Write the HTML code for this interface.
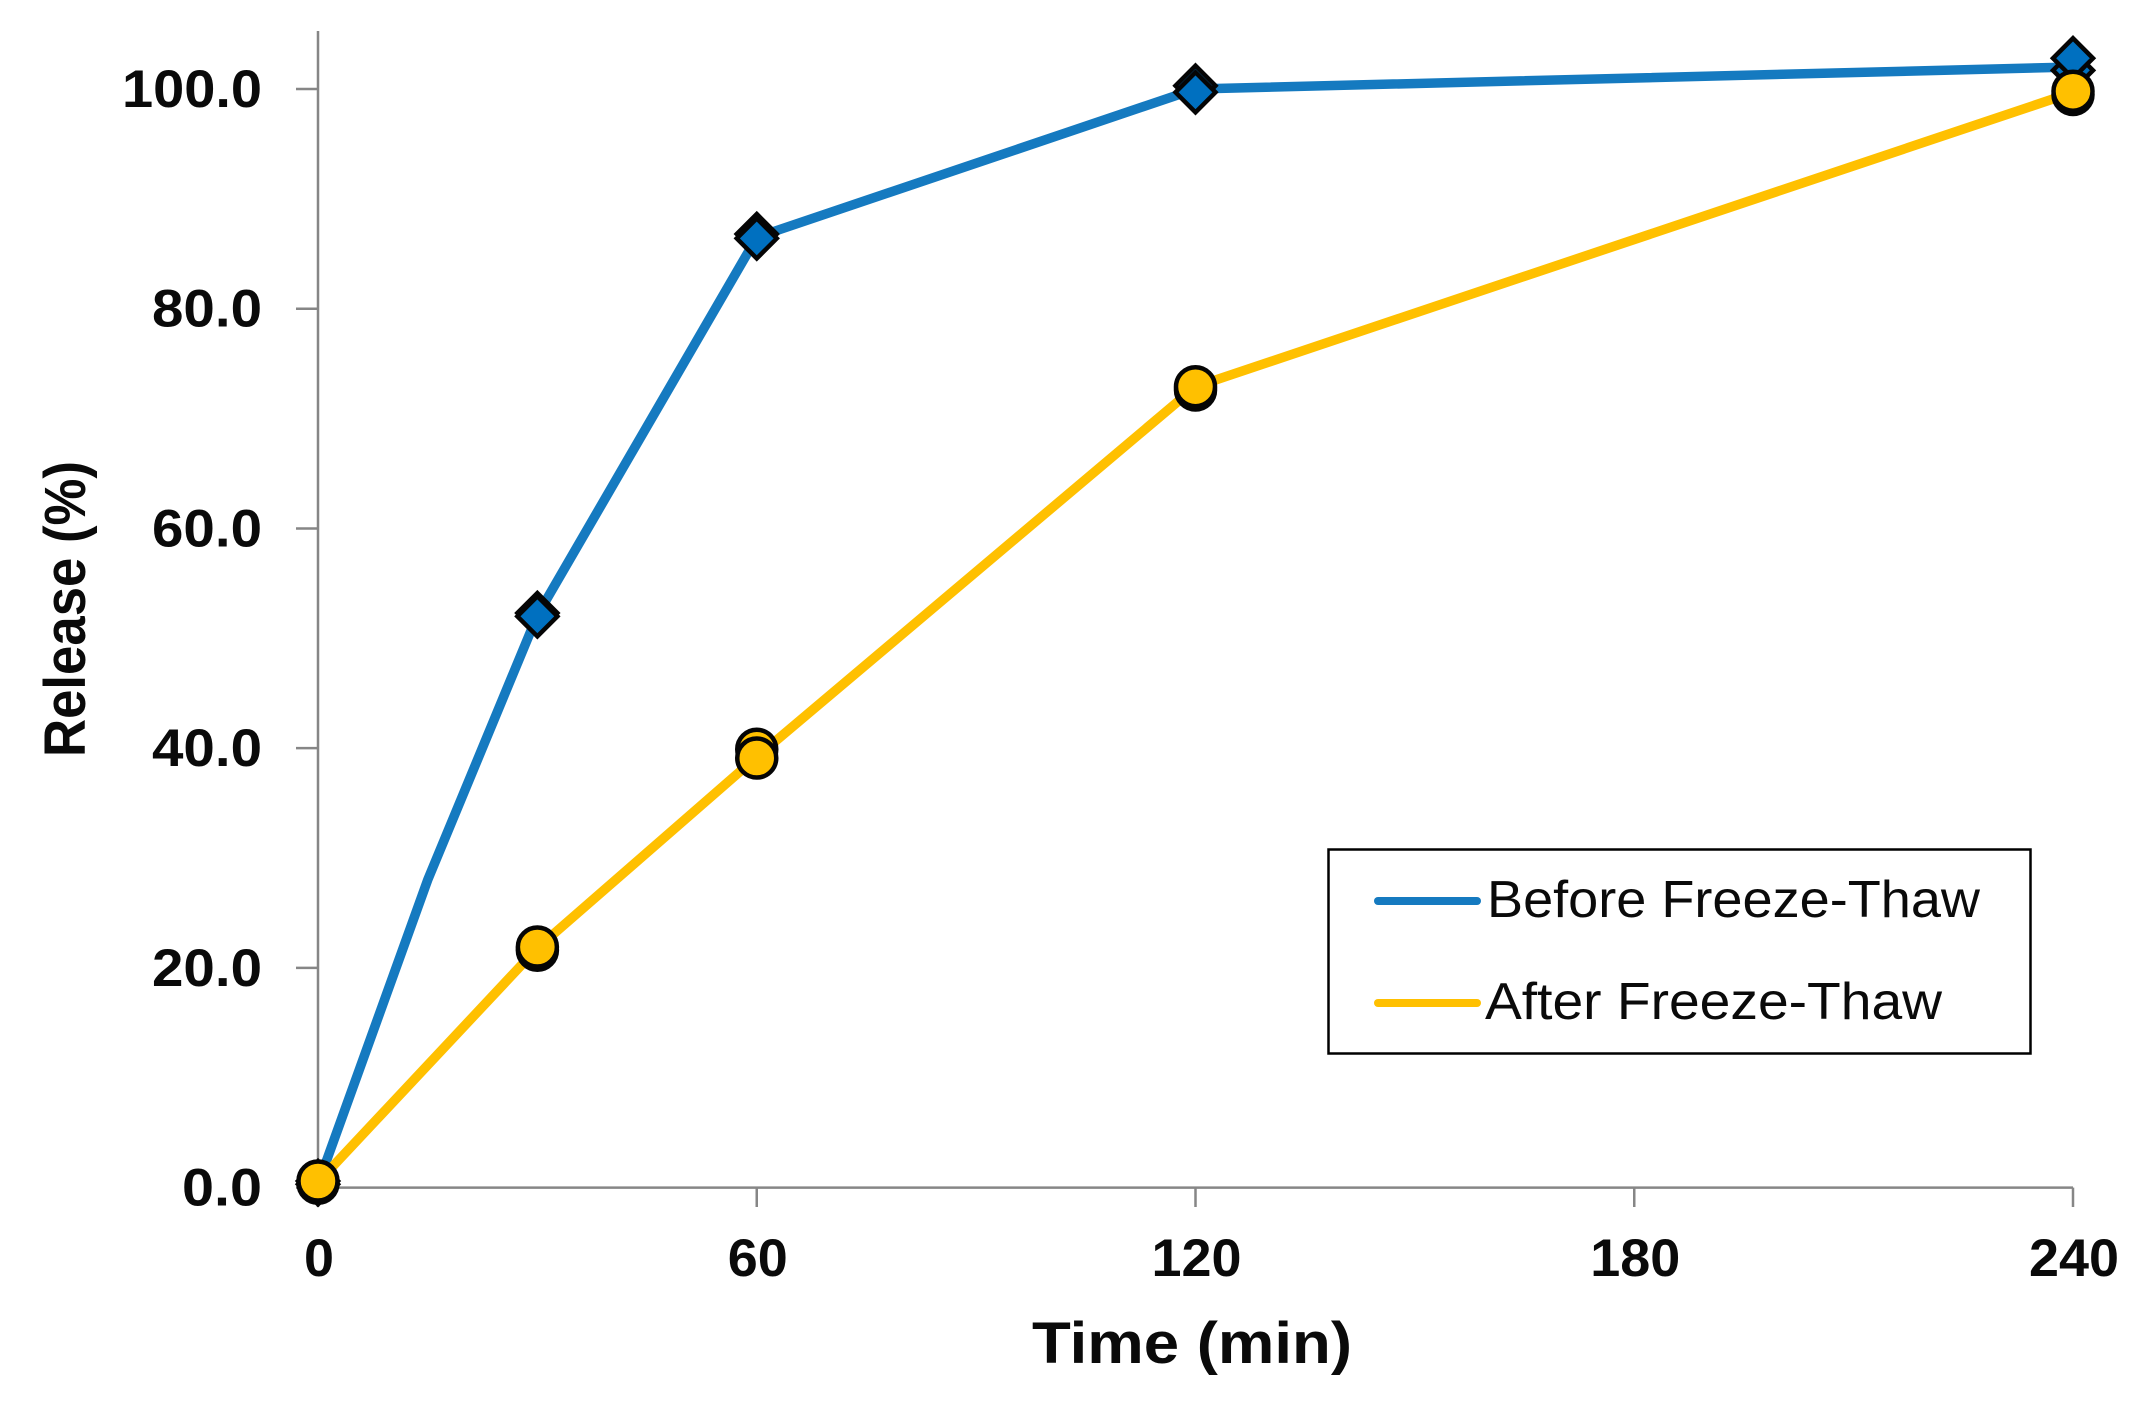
<!DOCTYPE html>
<html lang="en">
<head>
<meta charset="utf-8">
<title>Release over Time</title>
<style>
  html, body { margin: 0; padding: 0; background: #ffffff; }
  body { width: 2139px; height: 1408px; overflow: hidden; }
  svg { display: block; }
  text { font-family: "Liberation Sans", sans-serif; fill: #0a0a0a; }
</style>
</head>
<body>
<svg id="chart" width="2139" height="1408" viewBox="0 0 2139 1408" xmlns="http://www.w3.org/2000/svg">
  <rect x="0" y="0" width="2139" height="1408" fill="#ffffff"/>
  <g id="axes"></g>
  <g id="series"></g>
  <text transform="translate(85,609) rotate(-90)" text-anchor="middle" font-size="58" font-weight="700" textLength="296" lengthAdjust="spacingAndGlyphs">Release (%)</text>
  <text x="1192" y="1363" text-anchor="middle" font-size="58" font-weight="700" textLength="320" lengthAdjust="spacingAndGlyphs">Time (min)</text>
  <g>
    <rect x="1328.5" y="849.5" width="702" height="204" fill="#ffffff" stroke="#000000" stroke-width="2.5"/>
    <line x1="1378" y1="901" x2="1477" y2="901" stroke="#157ac0" stroke-width="8" stroke-linecap="round"/>
    <text x="1487" y="917" font-size="52" textLength="493" lengthAdjust="spacingAndGlyphs">Before Freeze-Thaw</text>
    <line x1="1378" y1="1003" x2="1477" y2="1003" stroke="#ffc000" stroke-width="8" stroke-linecap="round"/>
    <text x="1485" y="1019" font-size="52" textLength="457" lengthAdjust="spacingAndGlyphs">After Freeze-Thaw</text>
  </g>
</svg>
<script>
const timePoints = [0, 30, 60, 120, 240];
const beforeLineTimes = [0, 15, 30, 60, 120, 240];
const beforeLine = [0.3, 28.0, 52.1, 86.5, 100.0, 102.0];
const beforeMarkersBack = [0.6, 52.3, 86.8, 100.3, 101.7];
const beforeMarkersFront = [0.3, 52.0, 86.4, 99.7, 102.8];
const afterLine = [0.5, 21.8, 39.2, 72.9, 99.7];
const afterMarkersBack = [0.4, 21.6, 39.9, 72.6, 99.5];
const afterMarkersFront = [0.6, 21.9, 39.1, 72.9, 99.8];
const yTickValues = [0, 20, 40, 60, 80, 100];
const yTickLabels = ["0.0", "20.0", "40.0", "60.0", "80.0", "100.0"];
const xTickValues = [0, 60, 120, 180, 240];
const xTickLabels = ["0", "60", "120", "180", "240"];

const NS = "http://www.w3.org/2000/svg";
const xScale = function (t) { return 318 + t * 7.3125; };
const yScale = function (v) { return 1187.6 - v * 10.986; };
const axesGroup = document.getElementById("axes");
const seriesGroup = document.getElementById("series");

function make(tag, attrs, parent) {
  const el = document.createElementNS(NS, tag);
  Object.keys(attrs).forEach(function (k) { el.setAttribute(k, attrs[k]); });
  parent.appendChild(el);
  return el;
}

const yAxis = make("line", { x1: 318, y1: 31, x2: 318, y2: yScale(0), stroke: "#868686", "stroke-width": 2.5 }, axesGroup);


const xAxis = make("line", { x1: 318, y1: yScale(0), x2: xScale(240), y2: yScale(0), stroke: "#868686", "stroke-width": 2.5 }, axesGroup);



yTickValues.forEach(function (v, i) {
  const tick = make("line", { x1: 296, y1: yScale(v), x2: 318, y2: yScale(v), stroke: "#868686", "stroke-width": 2.5 }, axesGroup);
  
  
  const width = yTickLabels[i].length === 5 ? 140 : yTickLabels[i].length === 4 ? 110 : 80;
  const label = make("text", { x: 262, y: yScale(v) + 18, "text-anchor": "end", "font-size": 53, "font-weight": 700, textLength: width, lengthAdjust: "spacingAndGlyphs" }, axesGroup);
  label.textContent = yTickLabels[i];
  
  
});

xTickValues.forEach(function (t, i) {
  const tick = make("line", { x1: xScale(t), y1: yScale(0), x2: xScale(t), y2: 1207, stroke: "#868686", "stroke-width": 2.5 }, axesGroup);
  
  
  const width = xTickLabels[i].length * 30;
  const label = make("text", { x: xScale(t) + 1, y: 1276, "text-anchor": "middle", "font-size": 53, "font-weight": 700, textLength: width, lengthAdjust: "spacingAndGlyphs" }, axesGroup);
  label.textContent = xTickLabels[i];
  
  
});

function linePoints(times, values) {
  return values.map(function (v, i) { return xScale(times[i]) + "," + yScale(v); }).join(" ");
}

function diamond(t, v) {
  const cx = xScale(t), cy = yScale(v), r = 20;
  const el = make("polygon", {
    points: cx + "," + (cy - r) + " " + (cx + r) + "," + cy + " " + cx + "," + (cy + r) + " " + (cx - r) + "," + cy,
    fill: "#0070c0", stroke: "#050505", "stroke-width": 4.5, "stroke-linejoin": "miter"
  }, seriesGroup);
  
  
}

function circle(t, v) {
  const el = make("circle", { cx: xScale(t), cy: yScale(v), r: 19.5, fill: "#ffc000", stroke: "#050505", "stroke-width": 4.5 }, seriesGroup);
  
  
}

const beforePath = make("polyline", { points: linePoints(beforeLineTimes, beforeLine), fill: "none", stroke: "#157ac0", "stroke-width": 9.5, "stroke-linejoin": "round" }, seriesGroup);


timePoints.forEach(function (t, i) { diamond(t, beforeMarkersBack[i]); });
timePoints.forEach(function (t, i) { diamond(t, beforeMarkersFront[i]); });

const afterPath = make("polyline", { points: linePoints(timePoints, afterLine), fill: "none", stroke: "#ffc000", "stroke-width": 9.5, "stroke-linejoin": "round" }, seriesGroup);


timePoints.forEach(function (t, i) { circle(t, afterMarkersBack[i]); });
timePoints.forEach(function (t, i) { circle(t, afterMarkersFront[i]); });
</script>
</body>
</html>
